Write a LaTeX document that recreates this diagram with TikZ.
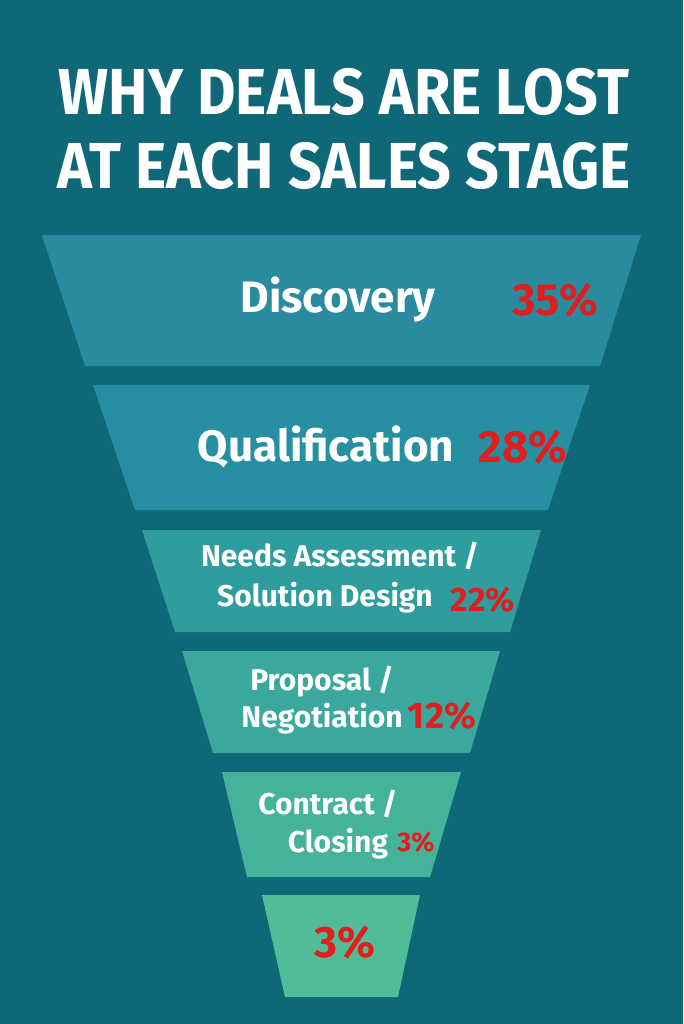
\documentclass[tikz,border=0pt]{standalone}
\usepackage{fontspec}
\setmainfont{Fira Sans}
\definecolor{bg}{HTML}{0E6878}
\definecolor{rd}{HTML}{E01E1E}
\definecolor{cA}{HTML}{2A8A9E}
\definecolor{cB}{HTML}{2690A2}
\definecolor{cC}{HTML}{2F9C9E}
\definecolor{cD}{HTML}{3AA89C}
\definecolor{cE}{HTML}{45B29A}
\definecolor{cF}{HTML}{52BC98}
\tikzset{lbl/.style={text=white,font=\fontsize{44}{48}\selectfont\bfseries,inner sep=0},
lbs/.style={text=white,font=\fontsize{30}{34}\selectfont\bfseries,inner sep=0},
pct/.style={text=rd,inner sep=0}}
\begin{document}
\begin{tikzpicture}[x=1pt,y=-1pt]
\fill[bg] (0,0) rectangle (683,1024);
\useasboundingbox (0,0) rectangle (683,1024);
\node[text=white,font=\fontsize{65}{65}\selectfont\bfseries,inner sep=0,xscale=0.91] (t1) at (344,92) {WHY DEALS ARE LOST};
\node[text=white,font=\fontsize{65}{65}\selectfont\bfseries,inner sep=0,xscale=0.91] (t2) at (344,166) {AT EACH SALES STAGE};
\fill[cA] (42,235)--(641,235)--(600,366)--(85,366)--cycle;
\fill[cB] (93,385)--(590,385)--(548,510)--(135,510)--cycle;
\fill[cC] (142,530)--(541,530)--(510,632)--(175,632)--cycle;
\fill[cD] (182,651)--(500,651)--(470,753)--(213,753)--cycle;
\fill[cE] (222,772)--(461,772)--(430,877)--(247,877)--cycle;
\fill[cF] (262,895)--(420,895)--(398,997)--(285,997)--cycle;
\node[lbl] (d) at (338,300) {Discovery};
\node[pct,font=\fontsize{45}{45}\selectfont\bfseries] (dp) at (555,300) {35\%};
\node[lbl] (q) at (326,447) {Qualification};
\node[pct,font=\fontsize{45}{45}\selectfont\bfseries] (qp) at (523,447) {28\%};
\node[lbs] (n1) at (340,556) {Needs Assessment /};
\node[lbs] (n2) at (325,598) {Solution Design};
\node[pct,font=\fontsize{34}{34}\selectfont\bfseries] (np) at (483,600) {22\%};
\node[lbs] (p1) at (322,682) {Proposal /};
\node[lbs] (p2) at (322,719) {Negotiation};
\node[pct,font=\fontsize{37}{37}\selectfont\bfseries] (pp) at (442,716) {12\%};
\node[lbs] (c1) at (328,804) {Contract /};
\node[lbs] (c2) at (338,844) {Closing};
\node[pct,font=\fontsize{27}{27}\selectfont\bfseries] (cp) at (416,842) {3\%};
\node[pct,font=\fontsize{44}{44}\selectfont\bfseries] (lp) at (345,943) {3\%};
\end{tikzpicture}
\end{document}
